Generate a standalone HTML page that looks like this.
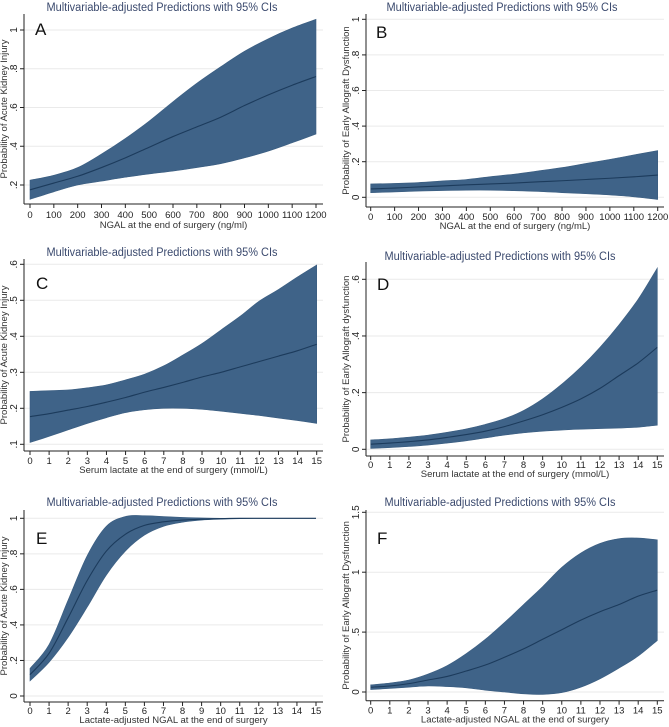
<!DOCTYPE html>
<html><head><meta charset="utf-8"><style>
html,body{margin:0;padding:0;background:#fff;}
svg{display:block;font-family:"Liberation Sans",Arial,sans-serif;}
</style></head><body>
<svg id="fig" width="669" height="727" viewBox="0 0 669 727"></svg>
<script>
// ---- data ----
const xA = [0,100,200,300,400,500,600,700,800,900,1000,1100,1200];
const hiA = [.225,.25,.29,.36,.44,.53,.63,.725,.81,.89,.955,1.01,1.055];
const midA = [.175,.21,.245,.29,.34,.395,.45,.5,.55,.61,.665,.715,.76];
const loA = [.126,.165,.2,.22,.24,.257,.272,.29,.31,.34,.375,.418,.463];

const xB = [0,100,200,300,400,500,600,700,800,900,1000,1100,1200];
const hiB = [.075,.078,.083,.092,.1,.116,.13,.148,.167,.19,.213,.238,.262];
const midB = [.047,.052,.058,.064,.07,.075,.08,.087,.093,.1,.107,.115,.125];
const loB = [.026,.03,.035,.038,.04,.04,.037,.033,.026,.02,.013,.003,-.012];

const xC = [0,1,2,3,4,5,6,7,8,9,10,11,12,13,14,15];
const hiC = [.247,.249,.251,.257,.265,.279,.295,.318,.348,.38,.418,.456,.498,.53,.565,.598];
const midC = [.177,.185,.195,.205,.217,.23,.245,.258,.272,.287,.3,.315,.33,.345,.36,.378];
const loC = [.105,.122,.14,.158,.174,.188,.196,.2,.2,.197,.192,.186,.18,.173,.166,.158];

const xD = [0,1,2,3,4,5,6,7,8,9,10,11,12,13,14,15];
const hiD = [.033,.037,.043,.05,.06,.072,.088,.108,.137,.178,.23,.29,.36,.44,.53,.64];
const midD = [.018,.022,.027,.033,.042,.052,.064,.08,.1,.122,.148,.178,.215,.26,.305,.36];
const loD = [.003,.006,.01,.015,.022,.03,.04,.05,.058,.064,.068,.071,.073,.075,.078,.085];

const xE = [0,1,2,3,4,5,6,7,8,9,10,11,12,13,14,15];
const hiE = [.155,.29,.54,.79,.955,1.01,1.015,1.01,1.005,1.002,1,1,1,1,1,1];
const midE = [.12,.24,.44,.65,.815,.91,.96,.98,.99,.995,.998,1,1,1,1,1];
const loE = [.085,.19,.33,.5,.68,.815,.905,.955,.978,.99,.995,.998,1,1,1,1];

const xF = [0,1,2,3,4,5,6,7,8,9,10,11,12,13,14,15];
const hiF = [.06,.075,.1,.15,.22,.32,.44,.58,.73,.88,1.04,1.16,1.24,1.28,1.285,1.27];
const midF = [.04,.05,.07,.1,.13,.175,.225,.29,.36,.44,.52,.6,.67,.73,.8,.85];
const loF = [.02,.03,.04,.05,.045,.035,.015,0,-.015,-.02,-.005,.04,.11,.2,.3,.43];

const xTicksNGAL = [0,100,200,300,400,500,600,700,800,900,1000,1100,1200];
const xTicks15 = [0,1,2,3,4,5,6,7,8,9,10,11,12,13,14,15];
const yTicksA = [.2,.4,.6,.8,1]; const yLabA = [".2",".4",".6",".8","1"];
const yTicksB = [0,.2,.4,.6,.8,1]; const yLabB = ["0",".2",".4",".6",".8","1"];
const yTicksC = [.1,.2,.3,.4,.5,.6]; const yLabC = [".1",".2",".3",".4",".5",".6"];
const yTicksD = [0,.2,.4,.6]; const yLabD = ["0",".2",".4",".6"];
const yTicksE = [0,.2,.4,.6,.8,1]; const yLabE = ["0",".2",".4",".6",".8","1"];
const yTicksF = [0,.5,1,1.5]; const yLabF = ["0",".5","1","1.5"];

const TITLE = "Multivariable-adjusted Predictions with 95% CIs";
const panels = [
 {id:"a",letter:"A",x:xA,hi:hiA,mid:midA,lo:loA,xt:xTicksNGAL,yt:yTicksA,yl:yLabA,
  xr:[0,1200],px:[30,316],yr:[.2,1],py:[185,30],left:24,bottom:204,top:14,right:323,titleY:11,titleX:162,
  ytitle:"Probability of Acute Kidney Injury",xtitle:"NGAL at the end of surgery (ng/ml)",lx:35,ly:35,tl:14,xtl:24},
 {id:"b",letter:"B",x:xB,hi:hiB,mid:midB,lo:loB,xt:xTicksNGAL,yt:yTicksB,yl:yLabB,
  xr:[0,1200],px:[370.7,657.7],yr:[0,1],py:[197.3,19.3],left:366,bottom:207,top:14,right:664,titleY:11,titleX:502,
  ytitle:"Probability of Early Allograft Dysfunction",xtitle:"NGAL at the end of surgery (ng/mL)",lx:376,ly:38,tl:13,xtl:22},
 {id:"c",letter:"C",x:xC,hi:hiC,mid:midC,lo:loC,xt:xTicks15,yt:yTicksC,yl:yLabC,
  xr:[0,15],px:[30,316.7],yr:[.1,.6],py:[444.3,264.3],left:24,bottom:451,top:259,right:323,titleY:256,titleX:162,
  ytitle:"Probability of Acute Kidney Injury",xtitle:"Serum lactate at the end of surgery (mmol/L)",lx:36,ly:289,tl:13,xtl:22},
 {id:"d",letter:"D",x:xD,hi:hiD,mid:midD,lo:loD,xt:xTicks15,yt:yTicksD,yl:yLabD,
  xr:[0,15],px:[370.7,657.3],yr:[0,.6],py:[449.3,279.3],left:366,bottom:456,top:262,right:664,titleY:260,titleX:500,
  ytitle:"Probability of Early Allograft dysfunction",xtitle:"Serum lactate at the end of surgery (mmol/L)",lx:377,ly:290,tl:12,xtl:21},
 {id:"e",letter:"E",x:xE,hi:hiE,mid:midE,lo:loE,xt:xTicks15,yt:yTicksE,yl:yLabE,
  xr:[0,15],px:[30,316],yr:[0,1],py:[696,518.3],left:24,bottom:702,top:510,right:323,titleY:506,titleX:162,
  ytitle:"Probability of Acute Kidney Injury",xtitle:"Lactate-adjusted NGAL at the end of surgery",lx:36,ly:544,tl:12,xtl:21},
 {id:"f",letter:"F",x:xF,hi:hiF,mid:midF,lo:loF,xt:xTicks15,yt:yTicksF,yl:yLabF,
  xr:[0,15],px:[370.7,657.3],yr:[0,1.5],py:[692,512.3],left:366,bottom:700.7,top:510,right:664,titleY:506,titleX:500,
  ytitle:"Probability of Early Allograft Dysfunction",xtitle:"Lactate-adjusted NGAL at the end of surgery",lx:377,ly:544,tl:13,xtl:22}
];

const NS="http://www.w3.org/2000/svg";
const svg=document.getElementById("fig");
function mk(tag,attrs,parent){const e=document.createElementNS(NS,tag);for(const k in attrs)e.setAttribute(k,attrs[k]);(parent||svg).appendChild(e);return e;}
function segs(pts){
  let d="";
  for(let i=0;i<pts.length-1;i++){
    const p0=pts[Math.max(0,i-1)],p1=pts[i],p2=pts[i+1],p3=pts[Math.min(pts.length-1,i+2)];
    const c1=[p1[0]+(p2[0]-p0[0])/6,p1[1]+(p2[1]-p0[1])/6];
    const c2=[p2[0]-(p3[0]-p1[0])/6,p2[1]-(p3[1]-p1[1])/6];
    d+=" C"+c1[0].toFixed(2)+","+c1[1].toFixed(2)+" "+c2[0].toFixed(2)+","+c2[1].toFixed(2)+" "+p2[0].toFixed(2)+","+p2[1].toFixed(2);
  }
  return d;
}
function smooth(pts){return "M"+pts[0][0].toFixed(2)+","+pts[0][1].toFixed(2)+segs(pts);}

panels.forEach(P=>{
  const sx=v=>P.px[0]+(v-P.xr[0])/(P.xr[1]-P.xr[0])*(P.px[1]-P.px[0]);
  const sy=v=>P.py[0]+(v-P.yr[0])/(P.yr[1]-P.yr[0])*(P.py[1]-P.py[0]);
  const g=mk("g",{});
  
  

  P.yt.forEach((v,i)=>{
    const l=mk("line",{x1:P.left,x2:P.right,y1:sy(v),y2:sy(v),stroke:"#eaeaea","stroke-width":1},g);
    
    
  });

  const up=P.x.map((x,i)=>[sx(x),sy(P.hi[i])]);
  const dn=P.x.map((x,i)=>[sx(x),sy(P.lo[i])]).reverse();
  const band=mk("path",{d:smooth(up)+" L"+dn[0][0].toFixed(2)+","+dn[0][1].toFixed(2)+segs(dn)+" Z",fill:"#3f6388",stroke:"#3a5d80","stroke-width":0.6},g);
  
  
  const line=mk("path",{d:smooth(P.x.map((x,i)=>[sx(x),sy(P.mid[i])])),fill:"none",stroke:"#1c3b5c","stroke-width":1.1},g);
  
  

  const ya=mk("line",{x1:P.left,x2:P.left,y1:P.top,y2:P.bottom,stroke:"#222","stroke-width":1},g);
  
  
  const xa=mk("line",{x1:P.left,x2:P.right,y1:P.bottom,y2:P.bottom,stroke:"#222","stroke-width":1},g);
  
  

  P.yt.forEach((v,i)=>{
    mk("line",{x1:P.left-4,x2:P.left,y1:sy(v),y2:sy(v),stroke:"#222","stroke-width":1},g);
    const t=mk("text",{x:0,y:0,transform:"translate("+(P.left-7)+","+sy(v)+") rotate(-90)","text-anchor":"middle","font-size":10,fill:"#222"},g);
    t.textContent=P.yl[i];
    
    
  });
  P.xt.forEach(v=>{
    mk("line",{x1:sx(v),x2:sx(v),y1:P.bottom,y2:P.bottom+4,stroke:"#222","stroke-width":1},g);
    const t=mk("text",{x:sx(v),y:P.bottom+P.tl,"text-anchor":"middle","font-size":9.5,fill:"#222"},g);
    t.textContent=String(v);
    
    
  });

  const tt=mk("text",{x:P.titleX,y:P.titleY,"text-anchor":"middle","font-size":11.5,fill:"#3b4a6e",textLength:231,lengthAdjust:"spacingAndGlyphs"},g);
  tt.textContent=TITLE;
  
  

  const xt=mk("text",{x:(P.left+P.right)/2,y:P.bottom+P.xtl,"text-anchor":"middle","font-size":9.5,fill:"#333"},g);
  xt.textContent=P.xtitle;
  
  

  const yx=P.left-17, yy=(P.top+P.bottom)/2;
  const yt=mk("text",{x:0,y:0,transform:"translate("+yx+","+yy+") rotate(-90)","text-anchor":"middle","font-size":9.5,fill:"#333"},g);
  yt.textContent=P.ytitle;
  
  

  const lt=mk("text",{x:P.lx,y:P.ly,"font-size":17,fill:"#111"},g);
  lt.textContent=P.letter;
  
  
});
</script>
</body></html>
